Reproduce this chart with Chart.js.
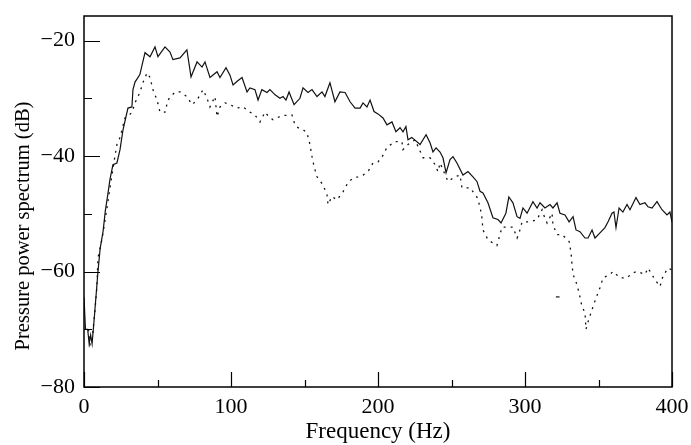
<!DOCTYPE html>
<html><head><meta charset="utf-8">
<script src="https://cdn.jsdelivr.net/npm/chart.js@4/dist/chart.umd.min.js"></script>
<style>html,body{margin:0;padding:0;background:#fff}#wrap{width:691px;height:445px}</style>
</head><body><div id="wrap"><canvas id="c" width="691" height="445"></canvas></div>
<script>
const freqSolid = [0,1,2.5,3.5,4.5,5.5,7,9.5,11,13,14.5,16,17.7,19.7,22.4,24.5,26.5,29.9,32.6,33.3,34.7,38,41.5,44.9,48.3,50.3,55.1,58.5,60.5,65.3,70,72.8,76.9,80.3,82.3,85.7,90.5,92.5,96.6,99.3,101.4,104,107.5,110.9,112.9,116.3,118.4,121,124.5,126.5,130,133.3,135.4,137.4,139.5,142.9,146.9,149,152.4,155.1,158.5,161.9,163.9,167.3,170.7,174.1,177.6,181,184.4,187.8,189.8,192.5,194.6,197.3,200,203.4,206.1,209.5,212.2,215,217,219,220.4,223,225,228.6,232.7,235.4,237.4,239.5,242.2,244.2,246.3,249,251,253.7,257.8,261.2,264.6,267.3,269.4,271.4,274.8,278.2,281.6,283.7,287,289,291.8,294.6,296.6,298.6,301.4,305.4,308.2,310.2,313.6,317,319,321.8,323.8,327.2,330,332.7,334.7,337.4,340.8,342.9,345.6,347.6,351,354.4,356.5,359.2,360.5,361.9,364,366.6,369.4,371.4,375.5,378.2,381.6,383.7,386.4,389.8,393.2,396.6,398.6,400];
const pressureSolid = [-64.5,-70,-70,-72.5,-71,-72.5,-68,-60,-56,-53,-49.5,-47,-44,-41.5,-41.2,-38.9,-35.5,-31.7,-31.5,-28.5,-27.2,-25.9,-22.1,-22.8,-21.1,-22.8,-21.1,-22,-23.3,-23,-21.6,-26.3,-23.7,-24.6,-23.7,-26.4,-25.4,-26.4,-24.7,-26,-27.7,-27.1,-26.4,-28.9,-28.2,-28.5,-30.3,-28.5,-29,-28.5,-29.4,-30,-29.7,-30.3,-28.9,-31.1,-30,-28.2,-29,-28.5,-29.7,-28.9,-29.7,-27.3,-30.6,-28.9,-29,-30.6,-31.7,-31.7,-30.8,-31.5,-30.3,-32.3,-32.7,-33.4,-34.6,-34.1,-35.8,-35.1,-35.8,-34.9,-37.2,-36.8,-37.2,-38,-36.3,-37.7,-39.3,-38.6,-39.3,-40.3,-42.9,-40.6,-40.1,-41.2,-43.3,-42.7,-43.6,-44.4,-46.1,-46.4,-48.1,-50.7,-51,-51.6,-49.9,-47.1,-48.1,-50.5,-50.8,-49,-49.9,-47.9,-49,-48.1,-49,-48.4,-49,-48.1,-49.9,-50.2,-51.4,-50.5,-52.8,-53.1,-54.2,-54.2,-52.8,-54.2,-53.3,-52.4,-51.4,-49.9,-49.7,-52.4,-49,-49.7,-48.4,-49.3,-47.2,-48.4,-48.1,-48.8,-49,-47.9,-49.3,-50.2,-49.7,-51.4];
const freqDotted = [3,4.1,5.5,7.5,8.8,9.5,12.2,15,18,21,22.4,24.5,27.9,32.6,34.7,38,40.1,42.9,44.9,46.9,49.7,51.7,55.1,57.1,61.9,65.3,70,73.5,76.9,81,83.7,85.7,89.1,90.5,92.5,95.9,99.3,104,108.2,112.9,116.3,119.7,123.1,126.5,128.6,134.7,141.5,143.5,145.6,149,151.7,153.7,155.1,156.5,158.5,162.6,165.3,166,168.7,172.1,176.2,179.6,183,186.4,189.8,193.2,196.6,200,202.7,206.1,211.6,216.3,217,220.4,225.2,230.6,235.4,238.8,240.8,242.2,247.6,252.4,255.8,257.1,262.6,267.3,269.4,270.7,271.4,274.8,280.9,282.3,284.4,291.8,294.6,296,298,303.4,308.2,311.6,312.2,315,318.4,319,321.8,325.2,330,331.3,332,332.7,335.4,337.4,338.8,340.8,341.5,342.9,345.6,348.3,351,353.1,357.8,359.9,364.6,369.4,372.8,376.2,381.6,383.7,388.4,391.8,393.9,397.3,400];
const pressureDotted = [-70,-72.7,-72,-66.6,-62.6,-57.6,-54.5,-50,-45,-40.1,-38,-36.8,-33.4,-32.5,-30.8,-29,-27.3,-25.6,-26.4,-28.5,-30.3,-32.4,-32.4,-30.3,-28.9,-28.9,-29.7,-31.1,-30.3,-28.5,-30,-31.5,-29.7,-33.2,-31.5,-30.8,-31.1,-31.7,-31.5,-32.4,-32.9,-34.1,-32.4,-33.4,-33.7,-33,-32.9,-34.6,-35.1,-35.4,-36,-38,-40.1,-41.8,-43.6,-45,-46.7,-48.4,-47,-47.6,-46.2,-44.6,-43.8,-43.6,-43.3,-42.7,-41.2,-41,-40.2,-38.5,-37.5,-37.5,-38.9,-38,-37.2,-40.3,-40.3,-41.5,-42.7,-41.2,-44.4,-43.6,-43.3,-45.5,-45.5,-47.1,-48.8,-50.7,-52.8,-54.5,-55.5,-54.2,-52.3,-52.3,-54.2,-53.3,-51.4,-51.4,-51,-49.3,-49.9,-51.6,-49.9,-51.9,-53.6,-53.6,-54.8,-56.7,-58.8,-60.5,-62.3,-64.4,-66.1,-67.1,-70,-68.7,-66.6,-64.6,-62.8,-61.1,-60.5,-60,-61.1,-61.1,-60.3,-60,-60.5,-59.4,-61.4,-62.6,-60.8,-59.4,-59.7];
const freqStray = [321, 323.5];
const pressureStray = [-64.4, -64.4];
const xTicks = [0, 100, 200, 300, 400];
const yTicks = [-80, -60, -40, -20];
const yTitle = 'Pressure power spectrum (dB)';
const xTitle = 'Frequency (Hz)';

const FONT = "'Liberation Serif', serif";
const toPts = (xs, ys) => xs.map((x, i) => ({x, y: ys[i]}));

const frame = {
  id: 'frame',
  afterDraw(chart) {
    const {ctx, chartArea: a, scales: {x, y}} = chart;
    ctx.save();
    ctx.strokeStyle = '#000';
    ctx.lineWidth = 1.5;
    ctx.strokeRect(a.left, a.top, a.right - a.left, a.bottom - a.top);
    ctx.lineWidth = 1.2;
    ctx.beginPath();
    for (let v = 0; v <= 400; v += 50) {
      const px = Math.round(x.getPixelForValue(v)) + 0.5;
      const len = v % 100 === 0 ? 15 : 7;
      ctx.moveTo(px, a.bottom); ctx.lineTo(px, a.bottom - len);
    }
    for (let v = -80; v <= -20; v += 10) {
      const py = Math.round(y.getPixelForValue(v)) + 0.5;
      const len = v % 20 === 0 ? 16 : 8;
      ctx.moveTo(a.left, py); ctx.lineTo(a.left + len, py);
    }
    ctx.stroke();
    ctx.fillStyle = '#000';
    ctx.font = "20.5px 'Liberation Serif', serif";
    ctx.textAlign = 'center';
    ctx.textBaseline = 'middle';
    ctx.translate(24, 226);
    ctx.rotate(-Math.PI / 2);
    ctx.fillText(yTitle, 0, 0);
    ctx.restore();
  }
};

new Chart(document.getElementById('c'), {
  type: 'line',
  data: {
    datasets: [
      {data: toPts(freqSolid, pressureSolid), borderColor: '#111', borderWidth: 1.2, pointRadius: 0, tension: 0},
      {data: toPts(freqDotted, pressureDotted), borderColor: '#111', borderWidth: 1.3, borderDash: [2, 5], pointRadius: 0, tension: 0},
      {data: toPts(freqStray, pressureStray), borderColor: '#111', borderWidth: 1.2, pointRadius: 0, tension: 0}
    ]
  },
  options: {
    responsive: false,
    animation: false,
    events: [],
    layout: {padding: {left: 0, right: 19, top: 16, bottom: 0}},
    plugins: {legend: {display: false}, tooltip: {enabled: false}},
    scales: {
      x: {
        type: 'linear', min: 0, max: 400,
        afterFit(s) { s.height = 58; s.paddingLeft = 0; s.paddingRight = 0; },
        afterBuildTicks(s) { s.ticks = xTicks.map(v => ({value: v})); },
        grid: {display: false, drawTicks: false},
        border: {display: false},
        ticks: {color: '#000', font: {family: FONT, size: 22}, padding: 7, maxRotation: 0, autoSkip: false},
        title: {display: true, text: xTitle, color: '#000', font: {family: FONT, size: 23}, padding: {top: 0, bottom: -1}}
      },
      y: {
        type: 'linear', min: -80, max: -15.75,
        afterFit(s) { s.width = 84; s.paddingTop = 0; s.paddingBottom = 0; },
        afterBuildTicks(s) { s.ticks = yTicks.map(v => ({value: v})); },
        grid: {display: false, drawTicks: false},
        border: {display: false},
        ticks: {color: '#000', font: {family: FONT, size: 22}, padding: 9, autoSkip: false,
          callback: v => (v < 0 ? '\u2212' + Math.abs(v) : String(v))},
        title: {display: false}
      }
    }
  },
  plugins: [frame]
});
</script></body></html>
